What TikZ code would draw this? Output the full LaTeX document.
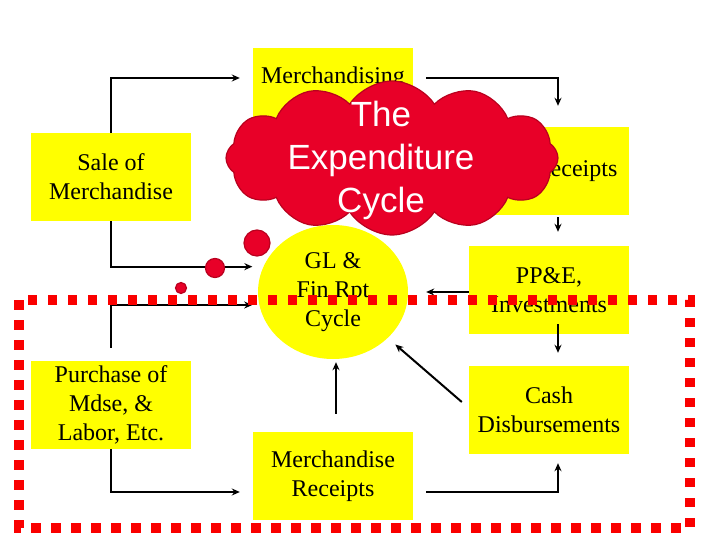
\documentclass[tikz,border=0pt]{standalone}
\usepackage{fontspec}
\setmainfont{Liberation Serif}
\newfontfamily\arialfont{Liberation Sans}
\usetikzlibrary{arrows.meta,positioning,shapes.geometric,shapes.symbols}
\definecolor{boxyellow}{RGB}{255,255,0}
\definecolor{cloudred}{RGB}{232,0,40}
\definecolor{cloudedge}{RGB}{185,0,30}
\definecolor{dotred}{RGB}{250,0,0}

\begin{document}
\begin{tikzpicture}[x=1pt,y=-1pt,>={Stealth[length=8pt,width=7pt]},
  ybox/.style={fill=boxyellow,minimum width=160pt,minimum height=88pt,inner sep=0pt,
               align=center,font=\fontsize{24}{29}\selectfont},
  flow/.style={->,line width=2pt},
  bubble/.style={circle,fill=cloudred,draw=cloudedge,line width=1.2pt,inner sep=0pt}]
  \useasboundingbox (0,0) rectangle (720,540);

  % boxes
  \node[ybox] (merch) at (333,92) {};
  \node[anchor=center,inner sep=0pt,font=\fontsize{24}{29}\selectfont] (merchtxt) at (333,78) {Merchandising};
  \node[ybox] (sale)  at (111,177) {Sale of\\Merchandise};
  \node[ybox] (crec)  at (549,171) {Cash Receipts};
  \node[ybox] (ppe)   at (549,290) {PP\&E,\\Investments};
  \node[ybox] (cdis)  at (549,410) {Cash\\Disbursements};
  \node[ybox] (mrec)  at (333,476) {Merchandise\\Receipts};
  \node[ybox] (purch) at (111,405) {Purchase of\\Mdse, \&\\Labor, Etc.};
  \node[ellipse,fill=boxyellow,minimum width=150pt,minimum height=134pt,inner sep=0pt,
        align=center,font=\fontsize{24}{29}\selectfont] (gl) at (333,292) {GL \&\\Fin Rpt\\Cycle};

  % connectors
  \draw[flow] (sale.north) |- ([xshift=-13pt,yshift=14pt]merch.west);
  \draw[flow] ([xshift=13pt,yshift=14pt]merch.east) -| ([xshift=9pt,yshift=21pt]crec.north);
  \draw[flow] ([xshift=9pt,yshift=-2pt]crec.south) -- ([xshift=9pt,yshift=14pt]ppe.north);
  \draw[flow] (ppe.west |- gl.east) -- ([xshift=18pt]gl.east);
  \draw[flow] ([xshift=9pt,yshift=10pt]ppe.south) -- ([xshift=9pt,yshift=13pt]cdis.north);
  \draw[flow,shorten >=10pt] ([xshift=-7pt,yshift=8pt]cdis.west) -- (gl.-40);
  \draw[flow] ([xshift=13pt,yshift=-16pt]mrec.east) -| ([xshift=9pt,yshift=-9pt]cdis.south);
  \draw[flow] ([xshift=3pt,yshift=18pt]mrec.north) -- ([xshift=3pt,yshift=-3pt]gl.south);
  \draw[flow] (sale.south) |- ([xshift=-11pt]gl.160);
  \draw[flow] ([yshift=13pt]purch.north) |- ([xshift=-7pt]gl.190);
  \draw[flow] (purch.south) |- ([xshift=-13pt,yshift=-16pt]mrec.west);

  % dotted frame
  \draw[dotred,line width=9.5pt,dash pattern=on 9.5pt off 10.5pt] (19,300) rectangle (690,528);

  % thought cloud
  \node[cloud,cloud puffs=12,cloud puff arc=115,cloud ignores aspect,minimum width=332pt,
        minimum height=154pt,fill=cloudred,draw=cloudedge,line width=1.2pt] (cloud) at (392,158) {};
  \node[align=center,text=white,inner sep=0pt,font=\arialfont\fontsize{35}{43}\selectfont]
    (cloudtxt) at (381,160) {The\\Expenditure\\Cycle};
  \node[bubble,minimum size=26pt] (bub1) at (257,243) {};
  \node[bubble,minimum size=19pt] (bub2) at (215,268) {};
  \node[bubble,minimum size=11pt] (bub3) at (181,288) {};
\end{tikzpicture}
\end{document}
